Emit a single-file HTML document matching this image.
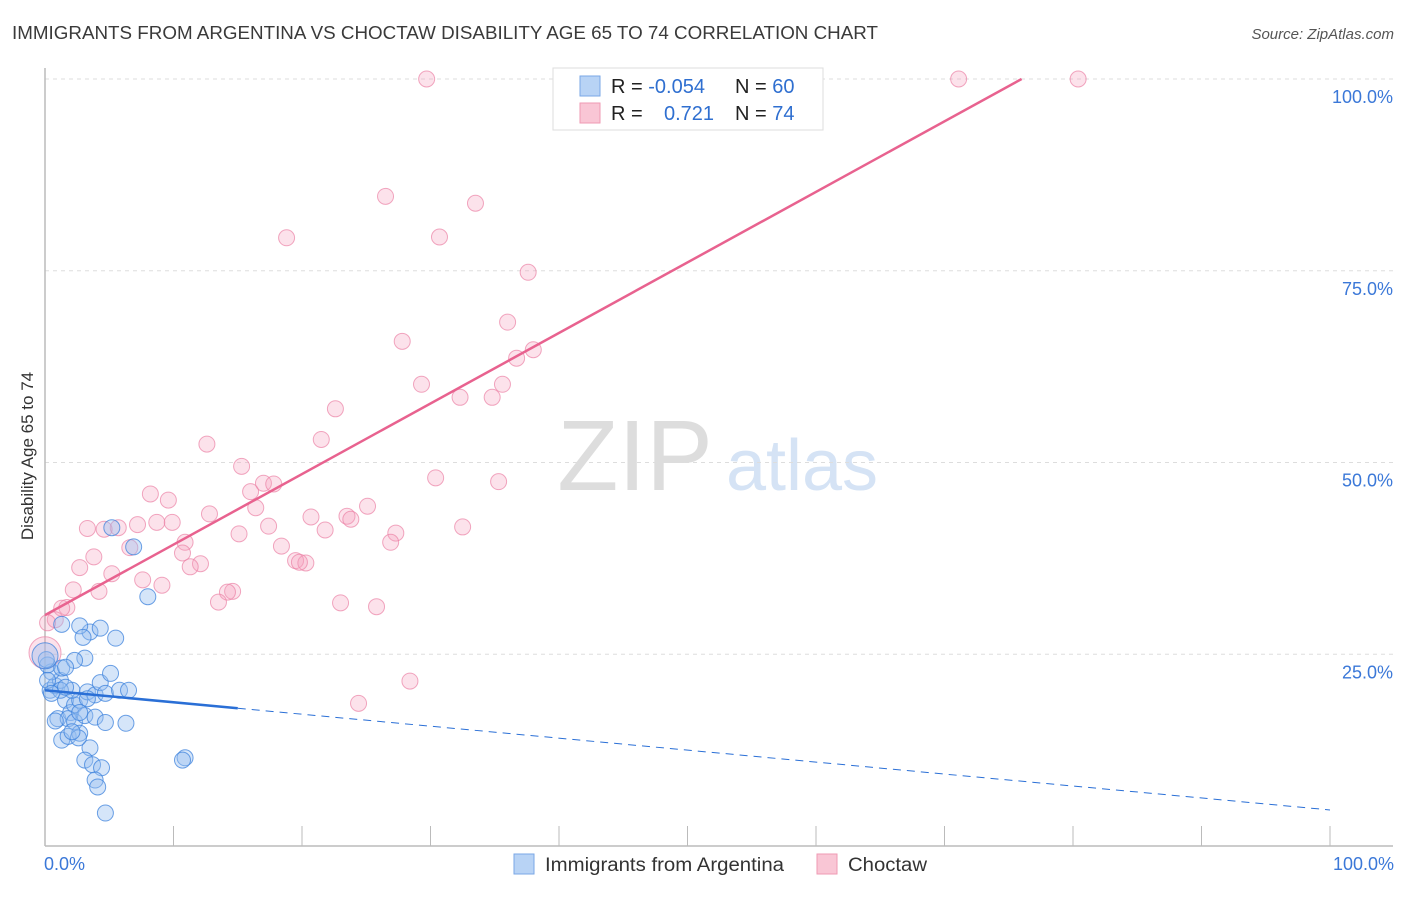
<!DOCTYPE html>
<html><head><meta charset="utf-8"><style>
body{margin:0;background:#fff;font-family:"Liberation Sans",sans-serif;}
svg text{font-family:"Liberation Sans",sans-serif;}
</style></head><body>
<svg id="chart" width="1406" height="892" xmlns="http://www.w3.org/2000/svg">
<text x="12" y="39" font-size="18" fill="#3a3a3a" textLength="866" lengthAdjust="spacingAndGlyphs">IMMIGRANTS FROM ARGENTINA VS CHOCTAW DISABILITY AGE 65 TO 74 CORRELATION CHART</text>
<text x="1394" y="39" font-size="15" fill="#555" text-anchor="end" font-style="italic">Source: ZipAtlas.com</text>
<text transform="translate(33,456) rotate(-90)" font-size="17" fill="#333" text-anchor="middle">Disability Age 65 to 74</text>
<g>
<text x="635" y="490" font-size="100" fill="#ddd" text-anchor="middle" font-family="Liberation Serif">ZIP</text>
<text x="802" y="490" font-size="72" fill="#d5e3f5" text-anchor="middle">atlas</text>
</g>
<g id="grid"></g>
<g id="axes"></g>
<g id="pts"></g>
<g id="lines"></g>
<g>
<rect x="553" y="68" width="270" height="62" fill="#fff" stroke="#ddd"/>
<rect x="580" y="76" width="20" height="20" fill="#b8d3f5" stroke="#7aa7e6"/>
<rect x="580" y="103" width="20" height="20" fill="#f9c6d5" stroke="#ef9ab3"/>
<text x="611" y="93" font-size="20" fill="#222">R = <tspan fill="#2f6fd0">-0.054</tspan></text>
<text x="735" y="93" font-size="20" fill="#222">N = <tspan fill="#2f6fd0">60</tspan></text>
<text x="611" y="120" font-size="20" fill="#222">R = </text>
<text x="664" y="120" font-size="20" fill="#2f6fd0">0.721</text>
<text x="735" y="120" font-size="20" fill="#222">N = <tspan fill="#2f6fd0">74</tspan></text>
</g>
<g>
<rect x="514" y="854" width="20" height="20" fill="#b8d3f5" stroke="#7aa7e6"/>
<text x="545" y="871" font-size="19" fill="#333" textLength="239" lengthAdjust="spacingAndGlyphs">Immigrants from Argentina</text>
<rect x="817" y="854" width="20" height="20" fill="#f9c6d5" stroke="#ef9ab3"/>
<text x="848" y="871" font-size="19" fill="#333" textLength="79" lengthAdjust="spacingAndGlyphs">Choctaw</text>
</g>
</svg>
<script>
const yTicks=[25,50,75,100];
const xTickLabels=["0.0%","100.0%"];
const blueX=[0.4,0.8,1.2,0.5,0.2,1.3,1.6,1.0,2.0,2.3,2.7,2.1,3.3,3.9,4.3,4.7,5.8,6.5,5.1,3.5,4.3,2.7,1.3,2.96,3.1,2.3,1.6,5.5,8.0,6.9,5.2,1.8,2.3,3.1,3.9,4.7,6.3,1.3,1.8,2.7,3.5,3.1,3.7,4.4,3.9,4.1,4.7,10.9,10.7,0.8,0.2,0.1,2.6,3.3,2.1,1.2,0.5,1.6,2.7,0.0];
const blueY=[20.3,20.9,21.6,22.7,23.6,23.2,19.0,16.6,17.4,18.4,19.0,20.3,20.1,19.7,21.3,19.9,20.3,20.3,22.5,27.9,28.4,28.7,28.9,27.2,24.5,24.2,23.3,27.1,32.5,39.0,41.5,16.6,16.2,17.0,16.8,16.1,16.0,13.8,14.3,14.7,12.8,11.2,10.6,10.2,8.6,7.7,4.3,11.5,11.2,16.3,21.6,24.3,14.1,19.2,14.9,20.3,19.9,20.7,17.4,24.8];
const pinkX=[29.7,71.1,80.4,26.5,33.5,18.8,30.7,37.6,36.0,27.8,38.0,36.7,29.3,35.6,32.3,34.8,22.6,21.5,12.6,15.3,30.4,35.3,17.0,17.8,16.0,8.2,9.6,25.1,16.4,12.8,23.5,20.7,23.8,9.9,8.7,32.5,3.3,5.7,4.6,7.2,17.4,21.8,15.1,27.3,26.9,10.9,6.6,18.4,10.7,3.8,12.1,11.3,19.5,20.3,19.8,2.7,5.2,7.6,9.1,14.6,14.2,4.2,2.2,13.5,23.0,25.8,1.7,1.3,0.8,0.2,28.4,24.4,0.0];
const pinkY=[100,100,100,84.7,83.8,79.3,79.4,74.8,68.3,65.8,64.7,63.6,60.2,60.2,58.5,58.5,57.0,53.0,52.4,49.5,48.0,47.5,47.3,47.2,46.2,45.9,45.1,44.3,44.1,43.3,43.0,42.9,42.6,42.2,42.2,41.6,41.4,41.5,41.3,41.9,41.7,41.2,40.7,40.8,39.6,39.6,38.9,39.1,38.2,37.7,36.8,36.4,37.2,36.9,37.0,36.3,35.5,34.7,34.0,33.2,33.1,33.2,33.4,31.8,31.7,31.2,31.1,31.0,29.5,29.1,21.5,18.6,25.2];
const pinkFit=[30.1,100.0];
const pinkFitX=[0,76];
const blueFit=[20.3,4.7];
const blueSolidEnd=15;

const X0=45,X1=1330,Y0=846,Y100=79;
const sx=v=>X0+(X1-X0)*v/100;
const sy=v=>Y0-(Y0-Y100)*v/100;
const NS="http://www.w3.org/2000/svg";
function mk(parent,tag,attrs){const e=document.createElementNS(NS,tag);for(const k in attrs)e.setAttribute(k,attrs[k]);document.getElementById(parent).appendChild(e);return e;}

yTicks.forEach(t=>{
  const l=mk('grid','line',{x1:45,x2:1393,y1:sy(t),y2:sy(t),stroke:'#ddd','stroke-dasharray':'4,4'});
  
  
  const tx=mk('grid','text',{x:1393,y:sy(t)+24,'font-size':18,fill:'#3b78d8','text-anchor':'end'});
  tx.textContent=t.toFixed(1)+'%';
  
  
});
const ax=mk('axes','line',{x1:45,x2:45,y1:68,y2:846,stroke:'#bbb','stroke-width':1.5});


const bx=mk('axes','line',{x1:45,x2:1393,y1:846,y2:846,stroke:'#bbb','stroke-width':1.5});


for(let i=1;i<=10;i++){
  const t=mk('axes','line',{x1:sx(i*10),x2:sx(i*10),y1:826,y2:846,stroke:'#bbb'});
  
  
}
[[0,'start'],[100,'end']].forEach((p,i)=>{
  const t=mk('axes','text',{x:p[0]==0?44:1394,y:870,'font-size':18,fill:'#3b78d8','text-anchor':p[1]});
  t.textContent=xTickLabels[i];
  
  
});
pinkX.forEach((x,i)=>{
  const big=(i==pinkX.length-1);
  const c=mk('pts','circle',{cx:sx(x),cy:sy(pinkY[i]),r:big?16:8,fill:'rgba(245,160,190,0.3)',stroke:'rgba(235,130,165,0.7)','stroke-width':1});
  
  
});
blueX.forEach((x,i)=>{
  const big=(i==blueX.length-1);
  const c=mk('pts','circle',{cx:sx(x),cy:sy(blueY[i]),r:big?13:8,fill:'rgba(150,190,240,0.4)',stroke:'rgba(60,130,220,0.75)','stroke-width':1});
  
  
});
const pl=mk('lines','line',{x1:sx(pinkFitX[0]),y1:sy(pinkFit[0]),x2:sx(pinkFitX[1]),y2:sy(pinkFit[1]),stroke:'#e8628f','stroke-width':2.5});


const by=x=>blueFit[0]+(blueFit[1]-blueFit[0])*x/100;
const bl=mk('lines','line',{x1:sx(0),y1:sy(by(0)),x2:sx(blueSolidEnd),y2:sy(by(blueSolidEnd)),stroke:'#2a6fd6','stroke-width':2.5});


const bd=mk('lines','line',{x1:sx(blueSolidEnd),y1:sy(by(blueSolidEnd)),x2:sx(100),y2:sy(by(100)),stroke:'#2a6fd6','stroke-width':1,'stroke-dasharray':'8,6'});


</script>
</body></html>
